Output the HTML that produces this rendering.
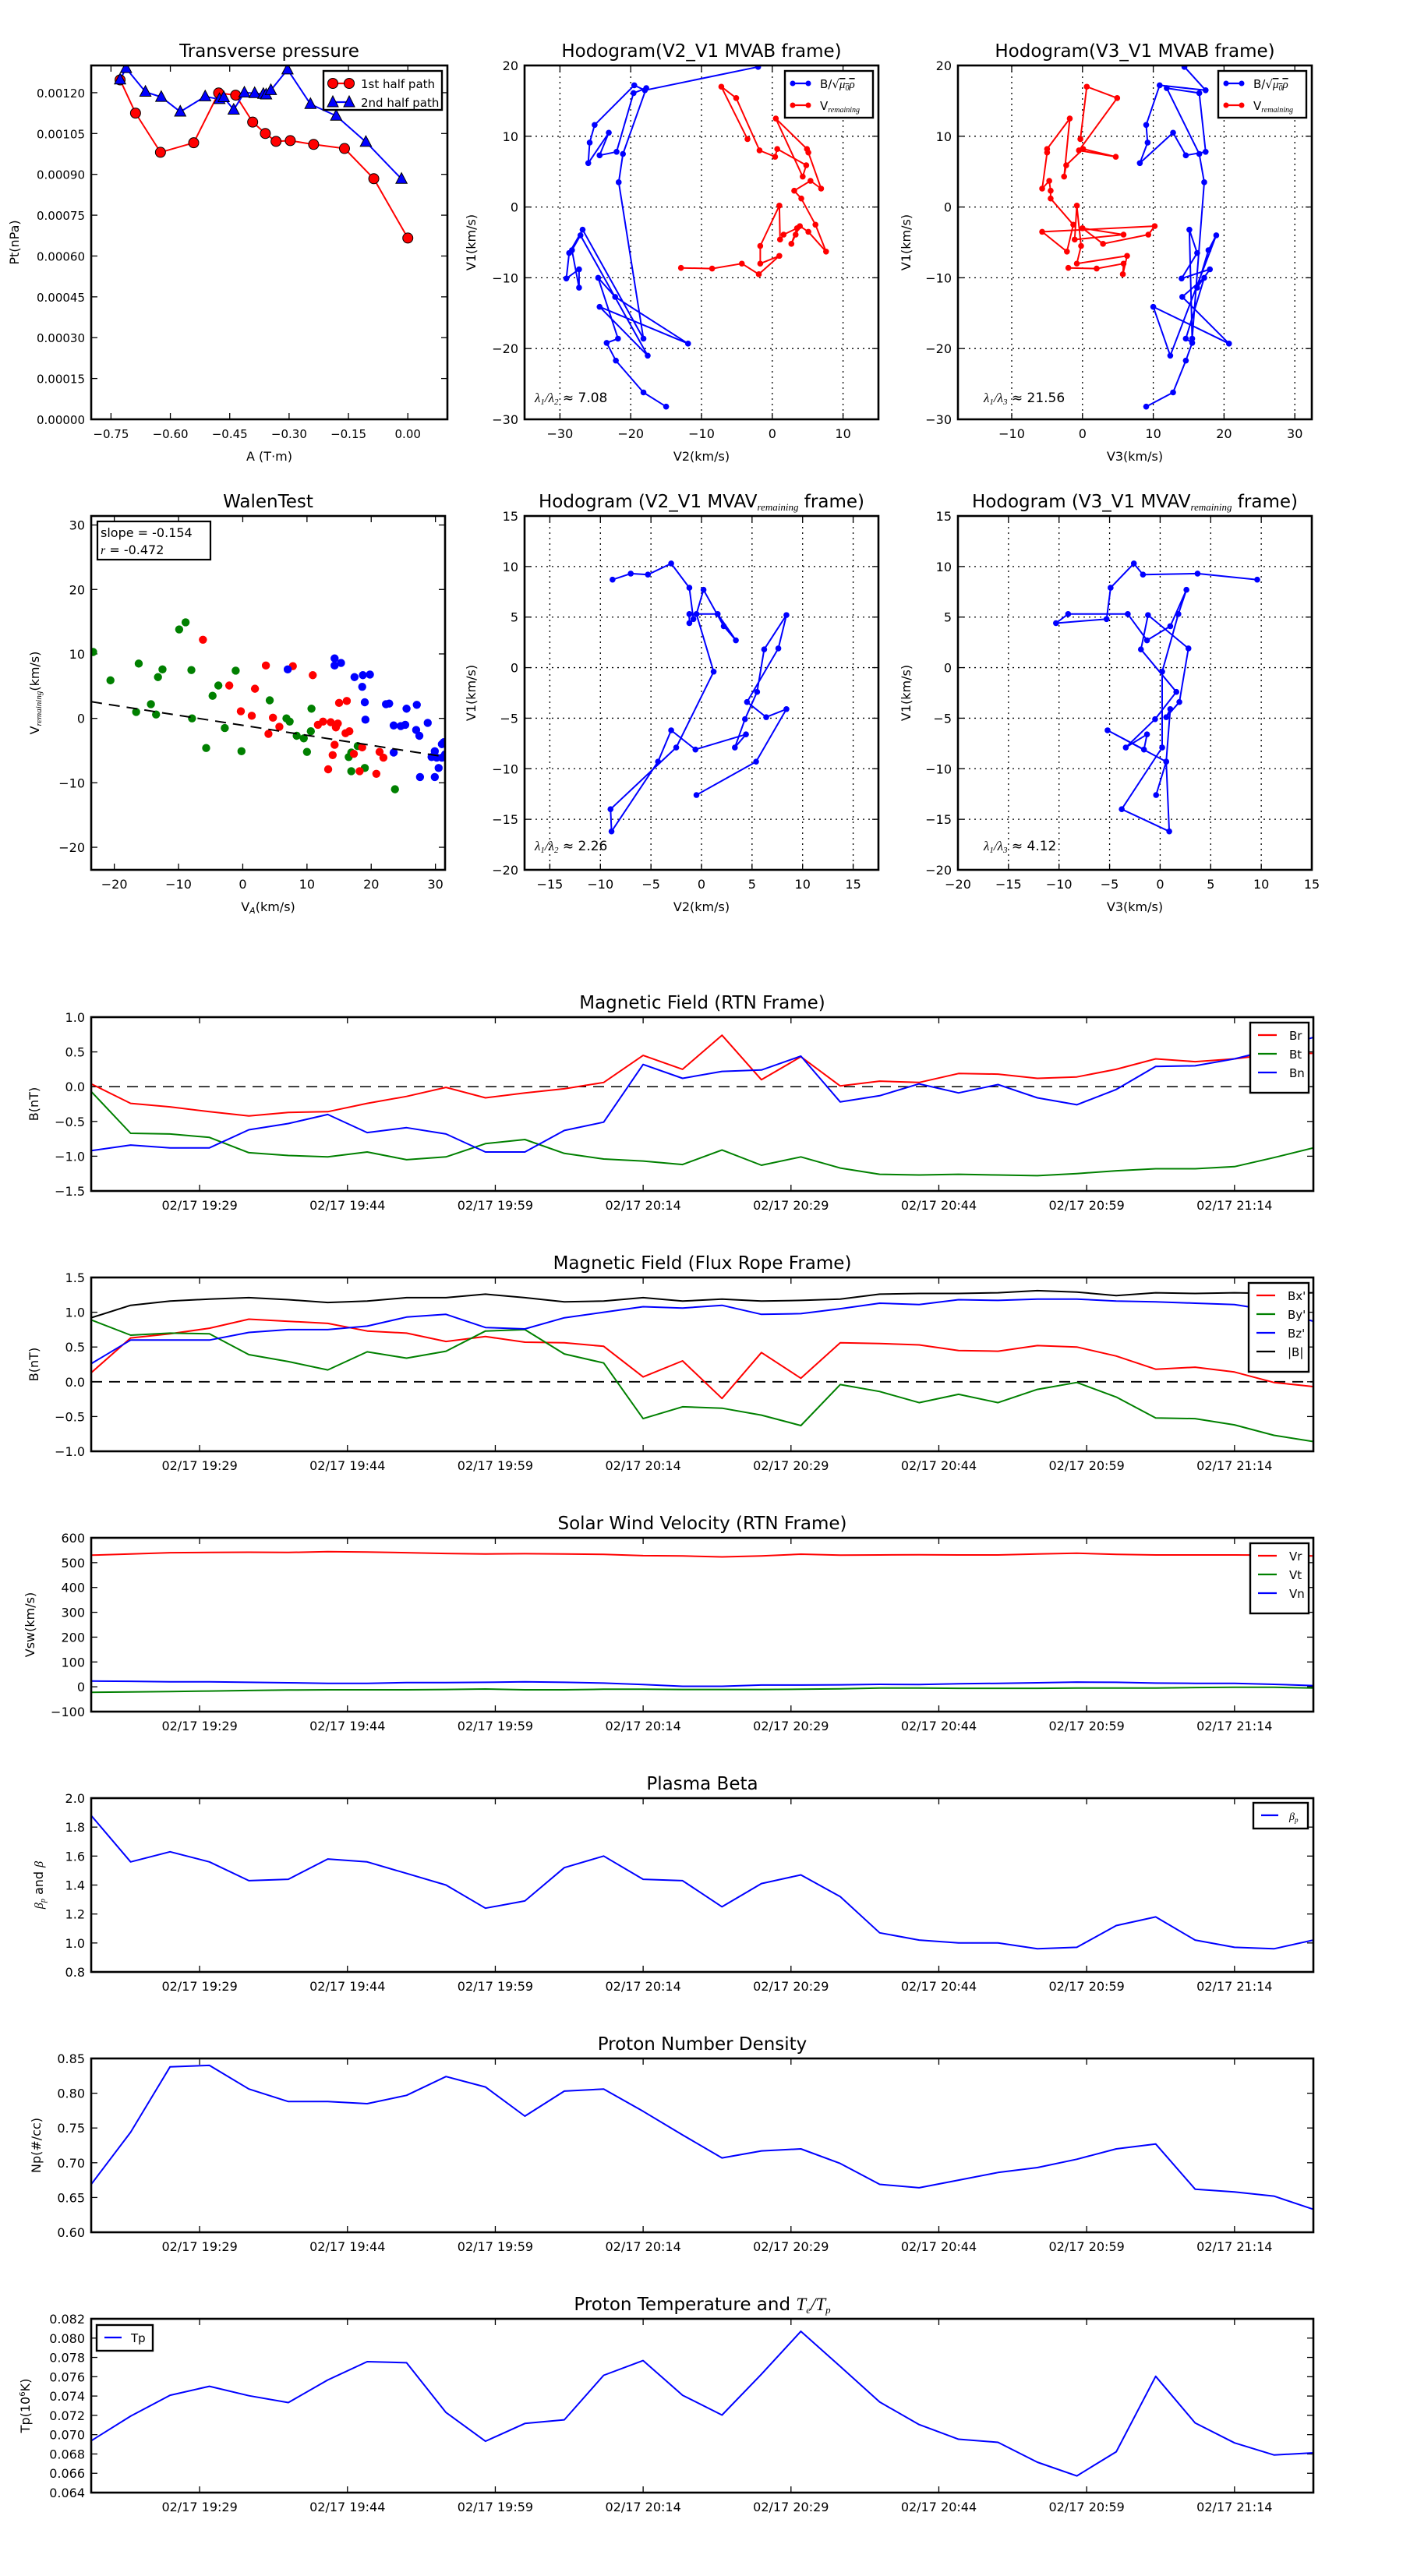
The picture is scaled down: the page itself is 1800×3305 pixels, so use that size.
<!DOCTYPE html>
<html><head><meta charset="utf-8"><style>
html,body{margin:0;padding:0;background:#fff;}
svg text{font-family:"DejaVu Sans","Liberation Sans",sans-serif;fill:#000;}
</style></head><body>
<svg id="fig" xmlns="http://www.w3.org/2000/svg" width="1800" height="3300" viewBox="0 0 1800 3300"></svg>
<script>
// ---------- DATA ----------
const tpA1 = [-0.727,-0.688,-0.625,-0.541,-0.478,-0.435,-0.392,-0.360,-0.333,-0.297,-0.238,-0.160,-0.086,0.0];
const tpP1 = [0.001247,0.001125,0.000981,0.001016,0.001199,0.001191,0.001092,0.00105,0.001021,0.001024,0.00101,0.000995,0.000884,0.000666];
const tpA2 = [-0.727,-0.712,-0.663,-0.623,-0.575,-0.512,-0.476,-0.465,-0.440,-0.413,-0.387,-0.365,-0.358,-0.346,-0.304,-0.246,-0.181,-0.106,-0.016];
const tpP2 = [0.001248,0.00129,0.001203,0.001184,0.00113,0.001186,0.001176,0.001183,0.001137,0.0012,0.001198,0.001195,0.001193,0.001209,0.001285,0.001158,0.001115,0.001019,0.000883];

const hbV2 = [-2.0,-18.0,-19.5,-25.1,-25.8,-26.0,-23.1,-24.4,-22.0,-19.6,-17.8,-21.1,-21.7,-18.2,-26.8,-28.7,-29.1,-27.3,-27.3,-28.3,-27.1,-17.6,-24.4,-11.9,-22.2,-24.6,-21.8,-23.4,-22.1,-18.2,-15.0];
const hbV1 = [19.8,16.5,17.2,11.6,9.1,6.2,10.5,7.3,7.8,16.1,16.8,7.5,3.5,-18.6,-3.2,-6.5,-10.1,-8.8,-11.4,-6.1,-4.0,-21.0,-14.1,-19.3,-12.7,-10.0,-18.6,-19.2,-21.7,-26.2,-28.2];
const hbV3 = [14.4,17.4,10.9,9.0,9.2,8.1,12.8,14.6,17.4,16.5,11.9,16.5,17.2,15.5,15.1,16.2,14.0,18.0,16.2,17.8,18.9,12.4,10.0,20.7,14.1,17.2,14.6,15.5,14.6,12.8,9.0];

const hrV2 = [-3.5,-7.2,-5.1,-1.8,0.4,0.7,4.8,4.3,0.5,4.9,5.1,6.9,5.4,3.1,4.1,6.1,7.6,5.1,3.9,3.3,2.7,3.5,1.6,1.1,1.0,-1.7,-1.7,1.0,-1.9,-4.3,-8.5,-12.9];
const hrV1 = [9.6,17.0,15.4,8.0,7.1,8.2,5.9,4.3,12.5,8.2,7.7,2.6,3.7,2.3,1.2,-2.5,-6.3,-3.5,-2.7,-3.9,-5.2,-3.0,-3.9,-4.6,0.2,-5.5,-8.0,-6.9,-9.5,-8.0,-8.7,-8.6];
const hrV3 = [-0.3,0.6,4.9,-0.5,4.7,0.1,-2.3,-2.6,-1.8,-5.0,-5.0,-5.7,-4.7,-4.5,-4.5,-1.3,-2.2,-5.7,10.2,9.3,2.9,0.0,5.8,-1.1,-0.8,-0.2,-0.8,6.3,5.7,5.8,2.0,-2.0];

const mvV2 = [-8.8,-7.0,-5.3,-3.0,-1.2,-0.8,-1.2,-1.2,1.6,3.4,2.2,0.2,-0.5,1.2,-2.5,-9.0,-8.9,-4.3,-3.0,-0.6,4.4,3.3,4.3,5.5,6.2,8.4,7.6,4.5,6.4,8.4,5.4,-0.5];
const mvV1 = [8.7,9.3,9.2,10.3,7.9,4.8,4.4,5.3,5.3,2.7,4.1,7.7,5.3,-0.4,-7.9,-14.0,-16.2,-9.3,-6.2,-8.1,-6.6,-7.9,-5.1,-2.4,1.8,5.2,1.9,-3.4,-4.9,-4.1,-9.3,-12.6];
const mvV3 = [9.6,3.7,-1.7,-2.6,-4.9,-5.3,-10.3,-9.1,-3.2,-1.3,1.0,2.6,1.8,0.2,0.2,-3.8,0.9,0.6,-5.2,-1.6,-1.3,-3.4,-0.5,1.6,-1.9,-1.2,2.8,1.9,0.6,1.0,0.6,-0.4];

const wgX = [-23.3,-20.6,-16.2,-16.6,-14.3,-13.5,-13.2,-12.5,-9.9,-8.9,-8.0,-7.9,-5.7,-4.7,-3.8,-2.8,-1.1,-0.2,4.2,6.8,7.3,8.4,9.5,10.0,10.6,10.7,16.5,16.9,16.9,17.9,19.0,23.7];
const wgY = [10.3,5.9,8.5,1.0,2.2,0.6,6.4,7.6,13.8,14.9,7.5,0,-4.6,3.5,5.1,-1.5,7.4,-5.1,2.8,0,-0.5,-2.7,-3.1,-5.2,-2.0,1.5,-6.0,-5.3,-8.2,-4.3,-7.7,-11.0];
const wrX = [-6.2,-2.1,-0.3,1.4,1.9,3.6,4.0,4.7,5.7,7.8,10.9,11.7,12.5,13.3,13.7,14.0,14.3,14.5,14.8,15.0,16.2,16.0,16.6,17.3,18.2,18.6,20.8,21.3,21.9];
const wrY = [12.2,5.1,1.1,0.4,4.6,8.2,-2.4,0.1,-1.3,8.1,6.7,-1.0,-0.5,-7.9,-0.6,-5.7,-4.1,-1.4,-0.8,2.4,2.7,-2.3,-2.0,-5.5,-8.2,-4.5,-8.6,-5.2,-6.1];
const wbX = [7.0,14.3,14.3,15.3,17.4,18.7,19.8,18.6,19.0,19.1,22.3,22.8,23.5,24.6,25.3,25.5,27.1,27.0,27.5,28.8,23.5,27.6,29.9,30.5,29.4,29.9,30.2,31.0,31.0,31.3,31.5];
const wbY = [7.6,9.3,8.2,8.6,6.4,6.7,6.8,4.9,2.5,-0.2,2.2,2.3,-1.1,-1.2,-1.0,1.5,2.1,-1.8,-2.7,-0.7,-5.3,-9.1,-9.1,-7.7,-6.0,-5.1,-6.1,-6.1,-4.0,-3.7,-5.6];
const walenSlope = -0.155;
const walenIntercept = -1.08;

const timeMin = [0,4,8,12,16,20,24,28,32,36,40,44,48,52,56,60,64,68,72,76,80,84,88,92,96,100,104,108,112,116,120,124];
const timeTicks = [11,26,41,56,71,86,101,116];
const timeLabels = ['02/17 19:29','02/17 19:44','02/17 19:59','02/17 20:14','02/17 20:29','02/17 20:44','02/17 20:59','02/17 21:14'];

const bR = [0.04,-0.24,-0.29,-0.36,-0.42,-0.37,-0.36,-0.24,-0.14,-0.01,-0.16,-0.09,-0.03,0.06,0.45,0.25,0.74,0.10,0.43,0.01,0.08,0.06,0.19,0.18,0.12,0.14,0.25,0.40,0.36,0.40,0.47,0.48];
const bT = [-0.07,-0.67,-0.68,-0.73,-0.95,-0.99,-1.01,-0.94,-1.05,-1.01,-0.82,-0.76,-0.96,-1.04,-1.07,-1.12,-0.91,-1.13,-1.01,-1.17,-1.26,-1.27,-1.26,-1.27,-1.28,-1.25,-1.21,-1.18,-1.18,-1.15,-1.02,-0.88];
const bN = [-0.92,-0.84,-0.88,-0.88,-0.62,-0.53,-0.40,-0.66,-0.59,-0.68,-0.94,-0.94,-0.63,-0.51,0.32,0.12,0.22,0.24,0.44,-0.22,-0.13,0.04,-0.09,0.03,-0.16,-0.26,-0.04,0.29,0.30,0.40,0.54,0.71];

const bx = [0.13,0.63,0.69,0.77,0.90,0.87,0.84,0.73,0.70,0.58,0.65,0.57,0.56,0.51,0.07,0.30,-0.24,0.42,0.05,0.56,0.55,0.53,0.45,0.44,0.52,0.50,0.37,0.18,0.21,0.14,-0.01,-0.07];
const by = [0.89,0.67,0.70,0.69,0.39,0.29,0.17,0.43,0.34,0.44,0.73,0.75,0.40,0.27,-0.53,-0.36,-0.38,-0.48,-0.63,-0.04,-0.14,-0.30,-0.18,-0.30,-0.11,-0.01,-0.22,-0.52,-0.53,-0.62,-0.77,-0.86];
const bz = [0.26,0.60,0.60,0.60,0.71,0.75,0.75,0.80,0.93,0.97,0.78,0.76,0.92,1.00,1.08,1.06,1.10,0.97,0.98,1.05,1.13,1.11,1.18,1.17,1.19,1.19,1.16,1.15,1.13,1.11,1.02,0.87];
const bmag = [0.92,1.10,1.16,1.19,1.21,1.18,1.14,1.16,1.21,1.21,1.26,1.21,1.15,1.16,1.21,1.16,1.19,1.16,1.17,1.19,1.26,1.27,1.27,1.28,1.31,1.29,1.24,1.28,1.27,1.28,1.27,1.28];

const vr = [530,535,540,541,542,541,544,543,540,537,535,536,535,533,528,527,523,527,534,530,531,532,531,531,535,538,533,531,531,531,530,527];
const vt = [-22,-21,-19,-17,-15,-13,-12,-12,-12,-11,-9,-12,-12,-10,-10,-11,-11,-11,-10,-8,-5,-5,-6,-6,-6,-5,-5,-5,-3,-2,-2,-5];
const vn = [23,22,20,20,18,16,14,14,17,17,18,20,18,15,9,2,2,7,7,8,10,9,12,14,16,19,18,15,14,14,10,5];

const betaP = [1.88,1.56,1.63,1.56,1.43,1.44,1.58,1.56,1.48,1.40,1.24,1.29,1.52,1.60,1.44,1.43,1.25,1.41,1.47,1.32,1.07,1.02,1.00,1.00,0.96,0.97,1.12,1.18,1.02,0.97,0.96,1.02];
const np = [0.669,0.744,0.838,0.840,0.806,0.788,0.788,0.785,0.797,0.824,0.809,0.767,0.803,0.806,0.774,0.740,0.707,0.717,0.720,0.699,0.669,0.664,0.675,0.686,0.693,0.705,0.720,0.727,0.662,0.658,0.652,0.633];
const tp = [0.06937,0.07192,0.07408,0.07501,0.07403,0.07332,0.07566,0.07756,0.07745,0.0723,0.06932,0.07116,0.07154,0.07615,0.07767,0.07408,0.07203,0.07626,0.0807,0.07707,0.07338,0.07105,0.06953,0.06921,0.06715,0.06573,0.06823,0.07604,0.07122,0.06915,0.0679,0.06812];

// ---------- HELPERS ----------
const NS = 'http://www.w3.org/2000/svg';
const fig = document.getElementById('fig');
function mk(tag, attrs, parent) {
  const e = document.createElementNS(NS, tag);
  for (const k in attrs) e.setAttribute(k, attrs[k]);
  (parent || fig).appendChild(e);
  return e;
}
let clipN = 0;
function panel(o) {
  const g = mk('g', {});
  
  
  const sx = v => o.x + (v - o.xmin) / (o.xmax - o.xmin) * o.w;
  const sy = v => o.y + o.h - (v - o.ymin) / (o.ymax - o.ymin) * o.h;
  if (o.grid) {
    o.xt.forEach(v => {
      const l = mk('line', {x1: sx(v), x2: sx(v), y1: o.y, y2: o.y + o.h, stroke: '#000', 'stroke-width': 1.3, 'stroke-dasharray': '2,5'}, g);
      
      
    });
    o.yt.forEach(v => {
      const l = mk('line', {x1: o.x, x2: o.x + o.w, y1: sy(v), y2: sy(v), stroke: '#000', 'stroke-width': 1.3, 'stroke-dasharray': '2,5'}, g);
      
      
    });
  }
  o.xt.forEach((v, i) => {
    const X = sx(v);
    mk('line', {x1: X, x2: X, y1: o.y + o.h, y2: o.y + o.h - 8, stroke: '#000', 'stroke-width': 1.3}, g);
    mk('line', {x1: X, x2: X, y1: o.y, y2: o.y + 8, stroke: '#000', 'stroke-width': 1.3}, g);
    const t = mk('text', {x: X, y: o.y + o.h + (o.xlGap || 24), 'text-anchor': 'middle', 'font-size': o.fs || 16}, g);
    t.textContent = o.xl[i];
    
    
  });
  o.yt.forEach((v, i) => {
    const Y = sy(v);
    mk('line', {x1: o.x, x2: o.x + 8, y1: Y, y2: Y, stroke: '#000', 'stroke-width': 1.3}, g);
    mk('line', {x1: o.x + o.w, x2: o.x + o.w - 8, y1: Y, y2: Y, stroke: '#000', 'stroke-width': 1.3}, g);
    const t = mk('text', {x: o.x - 8, y: Y + 6, 'text-anchor': 'end', 'font-size': o.fs || 16}, g);
    t.textContent = o.yl[i];
    
    
  });
  const tt = mk('text', {x: o.x + o.w / 2, y: o.y - 11, 'text-anchor': 'middle', 'font-size': 23}, g);
  if (o.titleHTML) tt.innerHTML = o.titleHTML; else tt.textContent = o.title;
  
  
  if (o.xlabel) {
    const xl = mk('text', {x: o.x + o.w / 2, y: o.y + o.h + 53, 'text-anchor': 'middle', 'font-size': 16}, g);
    xl.innerHTML = o.xlabel;
    
    
  }
  if (o.ylabel) {
    const yx = o.ylx;
    const yy = o.y + o.h / 2;
    const yl = mk('text', {x: yx, y: yy, 'text-anchor': 'middle', 'font-size': 16, transform: 'rotate(-90 ' + yx + ' ' + yy + ')'}, g);
    yl.innerHTML = o.ylabel;
    
    
  }
  clipN++;
  const cp = mk('clipPath', {id: 'cp' + clipN}, g);
  mk('rect', {x: o.x, y: o.y, width: o.w, height: o.h}, cp);
  const data = mk('g', {'clip-path': 'url(#cp' + clipN + ')'}, g);
  
  
  return {g, data, sx, sy, finish: () => {
    const r = mk('rect', {x: o.x, y: o.y, width: o.w, height: o.h, fill: 'none', stroke: '#000', 'stroke-width': 2.6}, g);
    
    
  }};
}
function poly(p, xs, ys, color, width, name) {
  const pts = xs.map((v, i) => p.sx(v).toFixed(1) + ',' + p.sy(ys[i]).toFixed(1)).join(' ');
  const l = mk('polyline', {points: pts, fill: 'none', stroke: color, 'stroke-width': width || 2, 'stroke-linejoin': 'round'}, p.data);
  
  
  return l;
}
function dots(p, xs, ys, color, r, name, edge) {
  xs.forEach((v, i) => {
    const c = mk('circle', {cx: p.sx(v), cy: p.sy(ys[i]), r: r, fill: color, stroke: edge || 'none', 'stroke-width': 1}, p.data);
    
    
  });
}
function tris(p, xs, ys, color, s, name) {
  xs.forEach((v, i) => {
    const X = p.sx(v), Y = p.sy(ys[i]);
    const t = mk('polygon', {points: `${X},${Y - s} ${X - s * 0.9},${Y + s * 0.7} ${X + s * 0.9},${Y + s * 0.7}`, fill: color, stroke: '#000', 'stroke-width': 1}, p.data);
    
    
  });
}
function legend(x, y, w, h, entries, name) {
  const g = mk('g', {});
  
  
  mk('rect', {x, y, width: w, height: h, fill: '#fff', stroke: '#000', 'stroke-width': 2.4}, g);
  entries.forEach((e, i) => {
    const cy = y + 16 + i * e.step;
    const ln = mk('line', {x1: x + e.lx1, x2: x + e.lx2, y1: cy, y2: cy, stroke: e.color, 'stroke-width': 2.2}, g);
    
    
    if (e.marker === 'o') { mk('circle', {cx: x + e.lx1, cy, r: e.r, fill: e.color, stroke: e.edge || 'none'}, g); mk('circle', {cx: x + e.lx2, cy, r: e.r, fill: e.color, stroke: e.edge || 'none'}, g); }
    if (e.marker === '^') { [x + e.lx1, x + e.lx2].forEach(X => mk('polygon', {points: `${X},${cy - 8} ${X - 7},${cy + 6} ${X + 7},${cy + 6}`, fill: e.color, stroke: '#000'}, g)); }
    const t = mk('text', {x: x + e.tx, y: cy + 6, 'font-size': e.fs || 15}, g);
    t.innerHTML = e.label;
    
    
  });
}
function rng(a, b, s) { const r = []; for (let v = a; v <= b + 1e-9; v += s) r.push(+v.toFixed(6)); return r; }
const mi = v => (v < 0 ? '\u2212' : '') + Math.abs(v);

// ---------- ROW 1 ----------
const R1 = 84, R2 = 662, H = 454;
{
  const yt = rng(0, 0.0012, 0.00015);
  const xt = [-0.75,-0.6,-0.45,-0.3,-0.15,0];
  const p = panel({name: 'transverse-pressure-chart', x: 117, y: R1, w: 457, h: H, xmin: -0.8, xmax: 0.1, ymin: 0, ymax: 0.0013,
    xt, xl: xt.map(v => (v < 0 ? '\u2212' : '') + Math.abs(v).toFixed(2)), yt, yl: yt.map(v => v.toFixed(5)), fs: 15,
    title: 'Transverse pressure', xlabel: 'A (T\u00b7m)', ylabel: 'Pt(nPa)', ylx: 24});
  poly(p, tpA1, tpP1, '#f00', 2, 'first-half-path-line');
  poly(p, tpA2, tpP2, '#00f', 2, 'second-half-path-line');
  dots(p, tpA1, tpP1, '#f00', 6.5, 'first-half-point', '#000');
  tris(p, tpA2, tpP2, '#00f', 8, 'second-half-point');
  p.finish();
  legend(415, 91, 152, 50, [
    {color: '#f00', lx1: 12, lx2: 33, tx: 48, label: '1st half path', marker: 'o', r: 6.5, edge: '#000', step: 24},
    {color: '#00f', lx1: 12, lx2: 33, tx: 48, label: '2nd half path', marker: '^', step: 24}], 'pressure-legend');
}
const bLbl = 'B/\u221a<tspan text-decoration="overline" font-style="italic" font-family="Liberation Serif, serif">\u03bc<tspan font-size="10" dy="3">0</tspan><tspan dy="-3">\u03c1</tspan></tspan>';
const vLbl = 'V<tspan font-size="10" font-style="italic" font-family="Liberation Serif, serif" dy="3">remaining</tspan>';
function hodoLegend(x, name) {
  legend(x, 91, 113, 60, [
    {color: '#00f', lx1: 10, lx2: 30, tx: 45, label: bLbl, marker: 'o', r: 3.5, step: 28},
    {color: '#f00', lx1: 10, lx2: 30, tx: 45, label: vLbl, marker: 'o', r: 3.5, step: 28}], name);
}
{
  const xt = [-30,-20,-10,0,10], yt = [-30,-20,-10,0,10,20];
  const p = panel({name: 'hodogram-v2-v1-mvab', x: 673, y: R1, w: 454, h: H, xmin: -35, xmax: 15, ymin: -30, ymax: 20, grid: true,
    xt, xl: xt.map(mi), yt, yl: yt.map(mi), title: 'Hodogram(V2_V1 MVAB frame)', xlabel: 'V2(km/s)', ylabel: 'V1(km/s)', ylx: 610});
  poly(p, hbV2, hbV1, '#00f', 2, 'b-alfven-path'); dots(p, hbV2, hbV1, '#00f', 3.8, 'b-alfven-point');
  poly(p, hrV2, hrV1, '#f00', 2, 'v-remaining-path'); dots(p, hrV2, hrV1, '#f00', 3.8, 'v-remaining-point');
  p.finish();
  hodoLegend(1007, 'hodogram-legend');
  const t = mk('text', {x: 686, y: 516, 'font-size': 17});
  t.innerHTML = '<tspan font-style="italic" font-family="Liberation Serif, serif">\u03bb<tspan font-size="11" dy="3">1</tspan><tspan dy="-3">/\u03bb</tspan><tspan font-size="11" dy="3">2</tspan></tspan><tspan dy="-3"> \u2248 7.08</tspan>';
  
  
}
{
  const xt = [-10,0,10,20,30], yt = [-30,-20,-10,0,10,20];
  const p = panel({name: 'hodogram-v3-v1-mvab', x: 1229, y: R1, w: 454, h: H, xmin: -17.6, xmax: 32.4, ymin: -30, ymax: 20, grid: true,
    xt, xl: xt.map(mi), yt, yl: yt.map(mi), title: 'Hodogram(V3_V1 MVAB frame)', xlabel: 'V3(km/s)', ylabel: 'V1(km/s)', ylx: 1168});
  poly(p, hbV3, hbV1, '#00f', 2, 'b-alfven-path'); dots(p, hbV3, hbV1, '#00f', 3.8, 'b-alfven-point');
  poly(p, hrV3, hrV1, '#f00', 2, 'v-remaining-path'); dots(p, hrV3, hrV1, '#f00', 3.8, 'v-remaining-point');
  p.finish();
  hodoLegend(1563, 'hodogram-legend');
  const t = mk('text', {x: 1262, y: 516, 'font-size': 17});
  t.innerHTML = '<tspan font-style="italic" font-family="Liberation Serif, serif">\u03bb<tspan font-size="11" dy="3">1</tspan><tspan dy="-3">/\u03bb</tspan><tspan font-size="11" dy="3">3</tspan></tspan><tspan dy="-3"> \u2248 21.56</tspan>';
  
  
}
// ---------- ROW 2 ----------
{
  const xt = [-20,-10,0,10,20,30], yt = [-20,-10,0,10,20,30];
  const p = panel({name: 'walen-test-chart', x: 117, y: R2, w: 454, h: H, xmin: -23.6, xmax: 31.5, ymin: -23.5, ymax: 31.4,
    xt, xl: xt.map(mi), yt, yl: yt.map(mi), title: 'WalenTest',
    xlabel: 'V<tspan font-size="11" font-style="italic" dy="3">A</tspan><tspan dy="-3">(km/s)</tspan>',
    ylabel: 'V<tspan font-size="11" font-style="italic" font-family="Liberation Serif, serif" dy="3">remaining</tspan><tspan dy="-3">(km/s)</tspan>', ylx: 50});
  dots(p, wgX, wgY, '#008000', 5.2, 'walen-point-green');
  dots(p, wrX, wrY, '#f00', 5.2, 'walen-point-red');
  dots(p, wbX, wbY, '#00f', 5.2, 'walen-point-blue');
  const fx = [-23.6, 31.5];
  const fy = fx.map(v => walenSlope * v + walenIntercept);
  const fl = poly(p, fx, fy, '#000', 2, 'walen-fit-line');
  fl.setAttribute('stroke-dasharray', '14,9');
  p.finish();
  mk('rect', {x: 125, y: 669, width: 145, height: 49, fill: '#fff', stroke: '#000', 'stroke-width': 2.2});
  const t1 = mk('text', {x: 129, y: 689, 'font-size': 16}); t1.textContent = 'slope = -0.154';
  
  
  const t2 = mk('text', {x: 129, y: 711, 'font-size': 16}); t2.innerHTML = '<tspan font-style="italic" font-family="Liberation Serif, serif">r</tspan> = -0.472';
  
  
}
const subRem = '<tspan font-size="13" font-style="italic" font-family="Liberation Serif, serif" dy="4">remaining</tspan><tspan dy="-4"> frame)</tspan>';
{
  const xt = [-15,-10,-5,0,5,10,15], yt = [-20,-15,-10,-5,0,5,10,15];
  const p = panel({name: 'hodogram-v2-v1-mvav', x: 673, y: R2, w: 454, h: H, xmin: -17.5, xmax: 17.5, ymin: -20, ymax: 15, grid: true,
    xt, xl: xt.map(mi), yt, yl: yt.map(mi), titleHTML: 'Hodogram (V2_V1 MVAV' + subRem, xlabel: 'V2(km/s)', ylabel: 'V1(km/s)', ylx: 610});
  poly(p, mvV2, mvV1, '#00f', 2, 'mvav-path'); dots(p, mvV2, mvV1, '#00f', 3.8, 'mvav-point');
  p.finish();
  const t = mk('text', {x: 686, y: 1091, 'font-size': 17});
  t.innerHTML = '<tspan font-style="italic" font-family="Liberation Serif, serif">\u03bb<tspan font-size="11" dy="3">1</tspan><tspan dy="-3">/\u03bb</tspan><tspan font-size="11" dy="3">2</tspan></tspan><tspan dy="-3"> \u2248 2.26</tspan>';
  
  
}
{
  const xt = [-20,-15,-10,-5,0,5,10,15], yt = [-20,-15,-10,-5,0,5,10,15];
  const p = panel({name: 'hodogram-v3-v1-mvav', x: 1229, y: R2, w: 454, h: H, xmin: -20, xmax: 15, ymin: -20, ymax: 15, grid: true,
    xt, xl: xt.map(mi), yt, yl: yt.map(mi), titleHTML: 'Hodogram (V3_V1 MVAV' + subRem, xlabel: 'V3(km/s)', ylabel: 'V1(km/s)', ylx: 1168});
  poly(p, mvV3, mvV1, '#00f', 2, 'mvav-path'); dots(p, mvV3, mvV1, '#00f', 3.8, 'mvav-point');
  p.finish();
  const t = mk('text', {x: 1262, y: 1091, 'font-size': 17});
  t.innerHTML = '<tspan font-style="italic" font-family="Liberation Serif, serif">\u03bb<tspan font-size="11" dy="3">1</tspan><tspan dy="-3">/\u03bb</tspan><tspan font-size="11" dy="3">3</tspan></tspan><tspan dy="-3"> \u2248 4.12</tspan>';
  
  
}
// ---------- TIME SERIES ----------
function ts(o) {
  return panel(Object.assign({x: 117, w: 1568, h: 223, xmin: 0, xmax: 124, xt: timeTicks, xl: timeLabels, xlGap: 24}, o));
}
function tsLegend(x, y, w, entries, name) {
  legend(x, y, w, 18 + entries.length * 24, entries.map(e => ({color: e[0], label: e[1], lx1: 10, lx2: 34, tx: 50, step: 24})), name);
}
{
  const yt = rng(-1.5, 1.0, 0.5);
  const p = ts({name: 'magnetic-field-rtn-chart', y: 1305, ymin: -1.5, ymax: 1.0, yt, yl: yt.map(v => (v < 0 ? '\u2212' : '') + Math.abs(v).toFixed(1)), title: 'Magnetic Field (RTN Frame)', ylabel: 'B(nT)', ylx: 49});
  const z = poly(p, [0, 124], [0, 0], '#000', 1.5, 'zero-line'); z.setAttribute('stroke-dasharray', '14,9');
  poly(p, timeMin, bR, '#f00', 2, 'br-line'); poly(p, timeMin, bT, '#008000', 2, 'bt-line'); poly(p, timeMin, bN, '#00f', 2, 'bn-line');
  p.finish();
  tsLegend(1604, 1312, 75, [['#f00','Br'],['#008000','Bt'],['#00f','Bn']], 'rtn-legend');
}
{
  const yt = rng(-1.0, 1.5, 0.5);
  const p = ts({name: 'magnetic-field-flux-rope-chart', y: 1639, ymin: -1.0, ymax: 1.5, yt, yl: yt.map(v => (v < 0 ? '\u2212' : '') + Math.abs(v).toFixed(1)), title: 'Magnetic Field (Flux Rope Frame)', ylabel: 'B(nT)', ylx: 49});
  const z = poly(p, [0, 124], [0, 0], '#000', 1.8, 'zero-line'); z.setAttribute('stroke-dasharray', '14,9');
  poly(p, timeMin, bx, '#f00', 2, 'bx-line'); poly(p, timeMin, by, '#008000', 2, 'by-line'); poly(p, timeMin, bz, '#00f', 2, 'bz-line'); poly(p, timeMin, bmag, '#000', 2, 'bmag-line');
  p.finish();
  tsLegend(1602, 1646, 77, [['#f00',"Bx'"],['#008000',"By'"],['#00f',"Bz'"],['#000','|B|']], 'flux-rope-legend');
}
{
  const yt = rng(-100, 600, 100);
  const p = ts({name: 'solar-wind-velocity-chart', y: 1973, ymin: -100, ymax: 600, yt, yl: yt.map(mi), title: 'Solar Wind Velocity (RTN Frame)', ylabel: 'Vsw(km/s)', ylx: 44});
  poly(p, timeMin, vr, '#f00', 2, 'vr-line'); poly(p, timeMin, vt, '#008000', 2, 'vt-line'); poly(p, timeMin, vn, '#00f', 2, 'vn-line');
  p.finish();
  tsLegend(1604, 1980, 75, [['#f00','Vr'],['#008000','Vt'],['#00f','Vn']], 'velocity-legend');
}
{
  const yt = rng(0.8, 2.0, 0.2);
  const p = ts({name: 'plasma-beta-chart', y: 2307, ymin: 0.8, ymax: 2.0, yt, yl: yt.map(v => v.toFixed(1)), title: 'Plasma Beta',
    ylabel: '<tspan font-style="italic" font-family="Liberation Serif, serif">\u03b2<tspan font-size="10" dy="3">p</tspan></tspan><tspan dy="-3"> and </tspan><tspan font-style="italic" font-family="Liberation Serif, serif">\u03b2</tspan>', ylx: 55});
  poly(p, timeMin, betaP, '#00f', 2, 'beta-p-line');
  p.finish();
  legend(1608, 2313, 70, 33, [{color: '#00f', label: '<tspan font-style="italic" font-family="Liberation Serif, serif">\u03b2<tspan font-size="9" dy="3">p</tspan></tspan>', lx1: 10, lx2: 32, tx: 46, step: 24, fs: 14}], 'beta-legend');
}
{
  const yt = rng(0.60, 0.85, 0.05);
  const p = ts({name: 'proton-density-chart', y: 2641, ymin: 0.60, ymax: 0.85, yt, yl: yt.map(v => v.toFixed(2)), title: 'Proton Number Density', ylabel: 'Np(#/cc)', ylx: 52});
  poly(p, timeMin, np, '#00f', 2, 'np-line');
  p.finish();
}
{
  const yt = rng(0.064, 0.082, 0.002);
  const p = ts({name: 'proton-temperature-chart', y: 2975, ymin: 0.064, ymax: 0.082, yt, yl: yt.map(v => v.toFixed(3)),
    titleHTML: 'Proton Temperature and <tspan font-style="italic" font-family="Liberation Serif, serif">T<tspan font-size="13" dy="4">e</tspan><tspan dy="-4">/T</tspan><tspan font-size="13" dy="4">p</tspan></tspan>',
    ylabel: 'Tp(10<tspan font-size="10" dy="-6">6</tspan><tspan dy="6">K)</tspan>', ylx: 38});
  poly(p, timeMin, tp, '#00f', 2, 'tp-line');
  p.finish();
  legend(124, 2983, 72, 33, [{color: '#00f', label: 'Tp', lx1: 10, lx2: 32, tx: 44, step: 24}], 'tp-legend');
}
</script>
</body></html>
